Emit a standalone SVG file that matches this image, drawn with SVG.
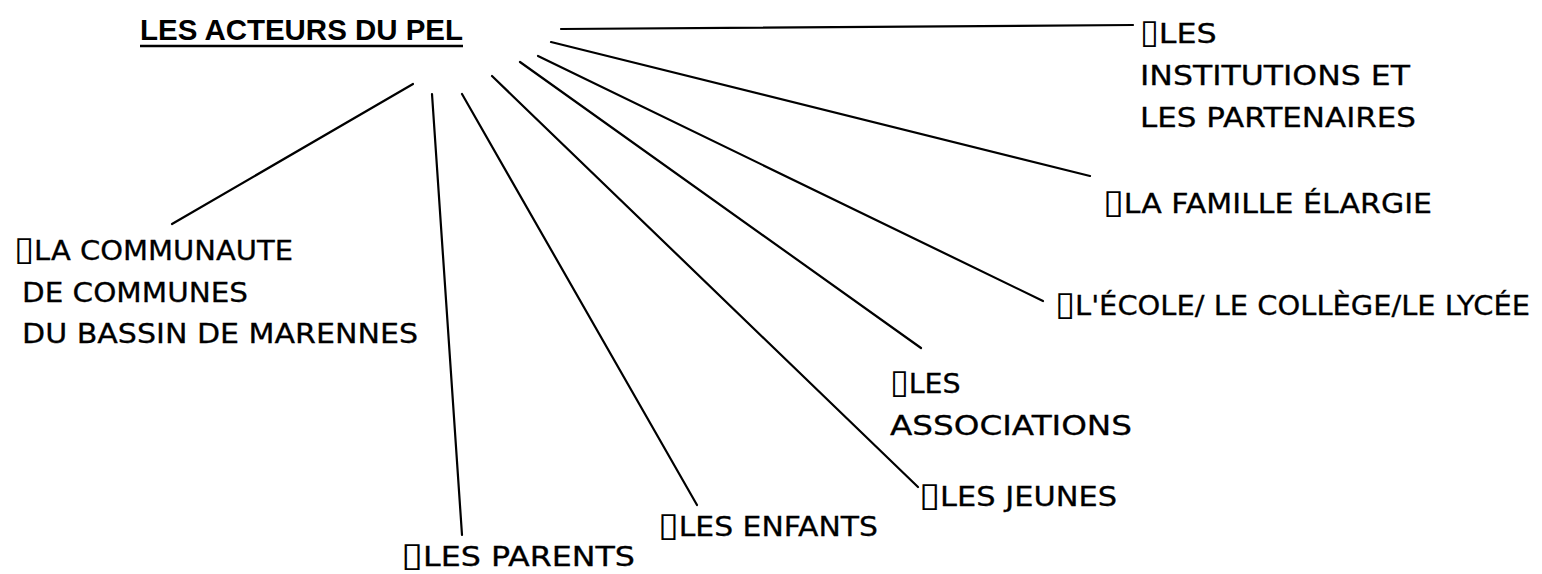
<svg xmlns="http://www.w3.org/2000/svg" width="1542" height="574" viewBox="0 0 1542 574">
<style>
.t{font-family:"DejaVu Sans","Liberation Sans",sans-serif;font-size:27px;fill:#000;stroke:#000;stroke-width:0.3}
.b{font-size:34px;stroke-width:0}
.h{font-family:"Liberation Sans","DejaVu Sans",sans-serif;font-size:30px;font-weight:bold;fill:#000}
.c line{stroke:#000;stroke-width:2.2;stroke-linecap:round}
</style>
<rect width="1542" height="574" fill="#fff"/>
<g id="title">
<text class="h" x="140" y="40" textLength="323" lengthAdjust="spacingAndGlyphs">LES ACTEURS DU PEL</text>
<line x1="140" y1="46" x2="463" y2="46" stroke="#000" stroke-width="2.5"/>
</g>
<g class="c" id="connectors">
<line x1="561" y1="29" x2="1133" y2="25"/>
<line x1="551" y1="42" x2="1090" y2="176"/>
<line x1="538" y1="56" x2="1043" y2="301"/>
<line x1="520" y1="62" x2="921" y2="348"/>
<line x1="492" y1="76" x2="918" y2="487"/>
<line x1="462" y1="94" x2="697" y2="505"/>
<line x1="432" y1="94" x2="462" y2="535"/>
<line x1="413" y1="84" x2="172" y2="224"/>
</g>
<g id="institutions">
<text class="t" x="1140" y="43"><tspan class="b">▯</tspan><tspan textLength="58" lengthAdjust="spacingAndGlyphs">LES</tspan></text>
<text class="t" x="1140" y="85" textLength="270" lengthAdjust="spacingAndGlyphs">INSTITUTIONS ET</text>
<text class="t" x="1140" y="127" textLength="276" lengthAdjust="spacingAndGlyphs">LES PARTENAIRES</text>
</g>
<g id="famille">
<text class="t" x="1103" y="213" textLength="329" lengthAdjust="spacingAndGlyphs"><tspan class="b">▯</tspan>LA FAMILLE ÉLARGIE</text>
</g>
<g id="ecole">
<text class="t" x="1055" y="315" textLength="475" lengthAdjust="spacingAndGlyphs"><tspan class="b">▯</tspan>L'ÉCOLE/ LE COLLÈGE/LE LYCÉE</text>
</g>
<g id="associations">
<text class="t" x="890" y="393"><tspan class="b">▯</tspan><tspan textLength="52" lengthAdjust="spacingAndGlyphs">LES</tspan></text>
<text class="t" x="890" y="435" textLength="242" lengthAdjust="spacingAndGlyphs">ASSOCIATIONS</text>
</g>
<g id="jeunes">
<text class="t" x="919" y="506" textLength="198" lengthAdjust="spacingAndGlyphs"><tspan class="b">▯</tspan>LES JEUNES</text>
</g>
<g id="enfants">
<text class="t" x="658" y="536" textLength="220" lengthAdjust="spacingAndGlyphs"><tspan class="b">▯</tspan>LES ENFANTS</text>
</g>
<g id="parents">
<text class="t" x="401" y="566" textLength="234" lengthAdjust="spacingAndGlyphs"><tspan class="b">▯</tspan>LES PARENTS</text>
</g>
<g id="communaute">
<text class="t" x="14" y="260" textLength="279" lengthAdjust="spacingAndGlyphs"><tspan class="b">▯</tspan>LA COMMUNAUTE</text>
<text class="t" x="22" y="302" textLength="226" lengthAdjust="spacingAndGlyphs">DE COMMUNES</text>
<text class="t" x="22" y="343" textLength="396" lengthAdjust="spacingAndGlyphs">DU BASSIN DE MARENNES</text>
</g>
</svg>
